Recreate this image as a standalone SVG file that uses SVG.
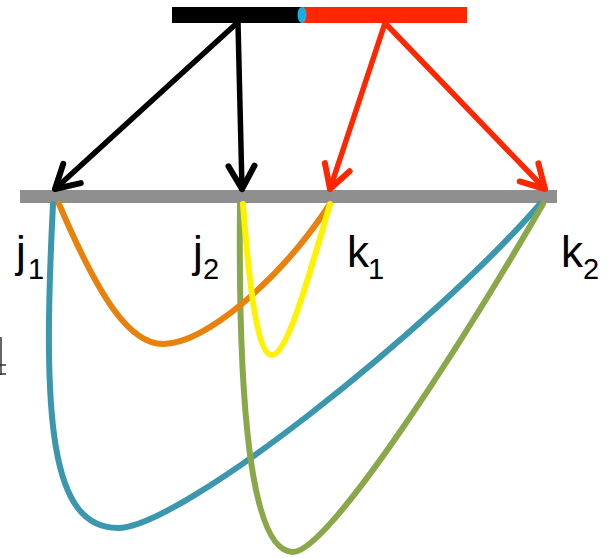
<svg xmlns="http://www.w3.org/2000/svg" width="610" height="558" viewBox="0 0 610 558">
<style>
.lbl{font-family:"Liberation Sans",Arial,sans-serif;font-size:44px;fill:#000}
.sub{font-size:29px}
.arrow{fill:none;stroke-width:5.5;stroke-linecap:round}
.curve{fill:none;stroke-width:6;stroke-linecap:round}
</style>
<defs>
<marker id="hb" markerUnits="userSpaceOnUse" markerWidth="40" markerHeight="40" viewBox="-30 -20 40 40" refX="0" refY="0" orient="auto">
<path d="M-23,-13 L0,0 L-23,13" fill="none" stroke="#000" stroke-width="6" stroke-linecap="round" stroke-linejoin="round"/>
</marker>
<marker id="hr" markerUnits="userSpaceOnUse" markerWidth="40" markerHeight="40" viewBox="-30 -20 40 40" refX="0" refY="0" orient="auto">
<path d="M-23,-13 L0,0 L-23,13" fill="none" stroke="#FF2600" stroke-width="6" stroke-linecap="round" stroke-linejoin="round"/>
</marker>
</defs>
<rect width="610" height="558" fill="#fff"/>
<g id="source">
<rect x="172" y="7" width="130" height="16" fill="#000"/>
<rect x="302" y="7" width="165" height="16" fill="#FF2600"/>
<ellipse cx="302" cy="15" rx="4.5" ry="8" fill="#1AAEE3"/>
</g>
<g id="screen">
<rect x="20" y="190" width="537" height="13" fill="#8F8F8F"/>
</g>
<g id="curves">
<path class="curve" stroke="#3A97AE" d="M53,204 C42,420 50,528 118,528 C180,528 430,330 540,204"/>
<path class="curve" stroke="#8AA84A" d="M240,204 C238,400 250,552 293,552 C330,552 470,330 543,204"/>
<path class="curve" stroke="#E8820C" d="M59,204 C100,300 130,344 163,344 C205,344 280,280 330,204"/>
<path class="curve" stroke="#FFF200" d="M243,204 C248,270 256,355 272,355 C288,355 312,265 330,204"/>
</g>
<g id="connectors">
<line class="arrow" stroke="#000" x1="237" y1="23" x2="55" y2="189" marker-end="url(#hb)"/>
<line class="arrow" stroke="#000" x1="238" y1="23" x2="242" y2="189" marker-end="url(#hb)"/>
<line class="arrow" stroke="#FF2600" x1="385" y1="23" x2="330" y2="189" marker-end="url(#hr)"/>
<line class="arrow" stroke="#FF2600" x1="385" y1="23" x2="545" y2="189" marker-end="url(#hr)"/>
</g>
<g id="labels">
<text class="lbl" y="267"><tspan x="16">j</tspan><tspan class="sub" x="28" y="279">1</tspan></text>
<text class="lbl" y="267"><tspan x="193">j</tspan><tspan class="sub" x="203" y="279">2</tspan></text>
<text class="lbl" y="267"><tspan x="347">k</tspan><tspan class="sub" x="368" y="279">1</tspan></text>
<text class="lbl" y="267"><tspan x="561">k</tspan><tspan class="sub" x="583" y="279">2</tspan></text>
</g>
<g id="mark" stroke="#333" stroke-width="1.5" fill="none">
<line x1="1" y1="337" x2="1" y2="375"/>
<line x1="0" y1="365" x2="6" y2="365"/>
<line x1="0" y1="374" x2="6" y2="374"/>
</g>
</svg>
